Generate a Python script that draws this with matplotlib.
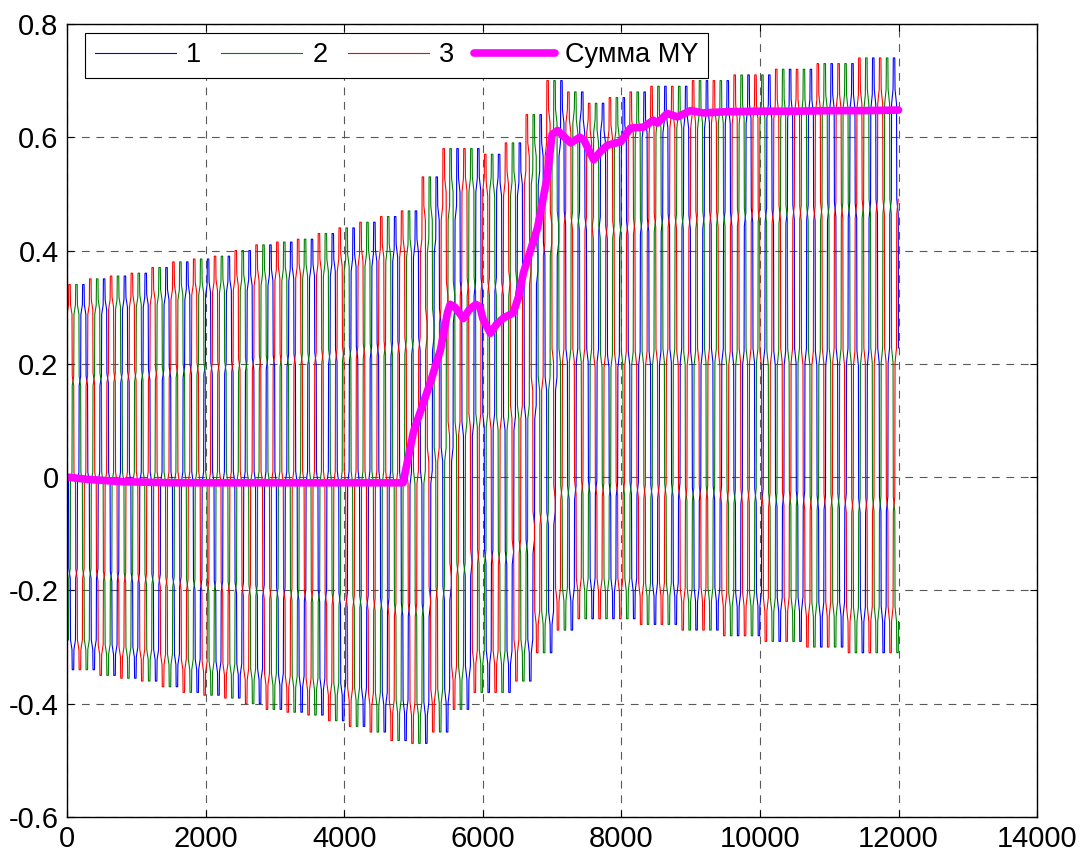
import numpy as np
import matplotlib.pyplot as plt

plt.rcParams['font.family'] = ['Liberation Sans Narrow', 'Liberation Sans', 'DejaVu Sans']
plt.rcParams['axes.unicode_minus'] = False

# ---- data ----
PERIOD = 300          # one oscillation, x units
X_END = 12000

# one period of the stepped phase signal, normalised, starting at its peak:
# fraction of the period and level (short sloped holds joined by jumps)
SHAPE_T = [0.000, 0.071, 0.083, 0.155, 0.167, 0.238, 0.250, 0.321,
           0.333, 0.405, 0.417, 0.488, 0.500, 0.571, 0.583, 0.655,
           0.667, 0.738, 0.750, 0.821, 0.833, 0.905, 0.917, 0.988]
SHAPE_V = [1.000, 1.000, 0.895, 0.845, 0.525, 0.475, 0.025, -0.025,
           -0.475, -0.525, -0.845, -0.895, -1.000, -1.000, -0.895, -0.845,
           -0.525, -0.475, -0.025, 0.025, 0.475, 0.525, 0.845, 0.895]

# peak / trough of the three phases in each period (40 periods)
UPPER = [0.34, 0.35, 0.355, 0.36, 0.37, 0.38, 0.385, 0.39, 0.40, 0.41,
         0.415, 0.42, 0.43, 0.44, 0.45, 0.46, 0.47, 0.53, 0.58, 0.58,
         0.57, 0.59, 0.64, 0.70, 0.68, 0.66, 0.67, 0.68, 0.69, 0.69,
         0.70, 0.70, 0.71, 0.71, 0.72, 0.72, 0.73, 0.73, 0.74, 0.74]
LOWER = [-0.34, -0.35, -0.355, -0.36, -0.37, -0.38, -0.385, -0.39, -0.40, -0.41,
         -0.415, -0.42, -0.43, -0.44, -0.45, -0.465, -0.47, -0.45, -0.41, -0.38,
         -0.38, -0.36, -0.31, -0.27, -0.25, -0.25, -0.25, -0.26, -0.26, -0.27,
         -0.27, -0.28, -0.28, -0.29, -0.29, -0.30, -0.30, -0.31, -0.31, -0.31]

# where each phase has its first peak
PHASE_NAMES = ['1', '2', '3']
PHASE_PEAK = [225, 125, 25]
PHASE_COLORS = ['#0000ff', '#008000', '#ff0000']

# thick magenta curve
SUM_X = [0, 300, 800, 1500, 2500, 3500, 4500, 4850, 5000, 5240, 5390, 5490, 5530,
         5600, 5720, 5800, 5900, 5960, 6000, 6110, 6200, 6300, 6440, 6520, 6585,
         6790, 6930, 7000, 7080, 7180, 7270, 7400, 7460, 7600, 7700, 7800, 7990,
         8130, 8320, 8460, 8520, 8660, 8810, 9000, 9180, 9500, 10000, 10500,
         11000, 11500, 12000]
SUM_Y = [0.0, -0.004, -0.008, -0.01, -0.01, -0.01, -0.01, -0.01, 0.08, 0.166,
         0.225, 0.29, 0.305, 0.30, 0.28, 0.295, 0.305, 0.30, 0.28, 0.254, 0.27,
         0.281, 0.29, 0.32, 0.36, 0.44, 0.53, 0.605, 0.612, 0.60, 0.59, 0.60,
         0.595, 0.56, 0.575, 0.586, 0.592, 0.616, 0.618, 0.63, 0.625, 0.642,
         0.636, 0.647, 0.643, 0.645, 0.646, 0.646, 0.647, 0.647, 0.648]
SUM_LABEL = 'Сумма МY'

XTICKS = [0, 2000, 4000, 6000, 8000, 10000, 12000, 14000]
YTICKS = [-0.6, -0.4, -0.2, 0, 0.2, 0.4, 0.6, 0.8]
YTICKLABELS = ['-0.6', '-0.4', '-0.2', '0', '0.2', '0.4', '0.6', '0.8']


def phase_signal(peak_at):
    t = np.array(SHAPE_T)
    v = np.array(SHAPE_V)
    xs, ys = [], []
    for c in range(-1, len(UPPER)):
        k = min(max(c, 0), len(UPPER) - 1)
        mid = (UPPER[k] + LOWER[k]) / 2
        half = (UPPER[k] - LOWER[k]) / 2
        xs.append(peak_at + PERIOD * (c + t))
        ys.append(mid + half * v)
    xs = np.concatenate(xs)
    ys = np.concatenate(ys)
    keep = (xs >= 0) & (xs <= X_END)
    return xs[keep], ys[keep]


fig = plt.figure(figsize=(10.83, 8.59), dpi=100)
ax = fig.add_axes([0.0619, 0.0489, 0.8957, 0.9232])

lines = []
for name, pk, col in zip(PHASE_NAMES, PHASE_PEAK, PHASE_COLORS):
    xs, ys = phase_signal(pk)
    l, = ax.plot(xs, ys, color=col, lw=0.8, label=name)
    lines.append(l)
l, = ax.plot(SUM_X, SUM_Y, color='#ff00ff', lw=5.5, label=SUM_LABEL,
             solid_joinstyle='round', solid_capstyle='round')
lines.append(l)

ax.set_xlim(0, 14000)
ax.set_ylim(-0.6, 0.8)
ax.set_xticks(XTICKS)
ax.set_xticklabels([str(t) for t in XTICKS])
ax.set_yticks(YTICKS)
ax.set_yticklabels(YTICKLABELS)
ax.tick_params(direction='in', length=5, width=0.8, top=True, right=True,
               labelsize=21, pad=6)
ax.grid(True, color='0.35', lw=0.8, linestyle=(0, (7, 6)))
for sp in ax.spines.values():
    sp.set_linewidth(1.0)
    sp.set_color('black')

leg = ax.legend(lines, [l.get_label() for l in lines], loc='upper left',
                bbox_to_anchor=(0.0186, 0.989), borderaxespad=0, ncol=4,
                fontsize=19.5, handlelength=3.0, handletextpad=0.37,
                columnspacing=0.74, fancybox=False, framealpha=1,
                edgecolor='black', borderpad=0.35)
leg.get_frame().set_linewidth(0.8)

fig.savefig('out.png', dpi=100)
